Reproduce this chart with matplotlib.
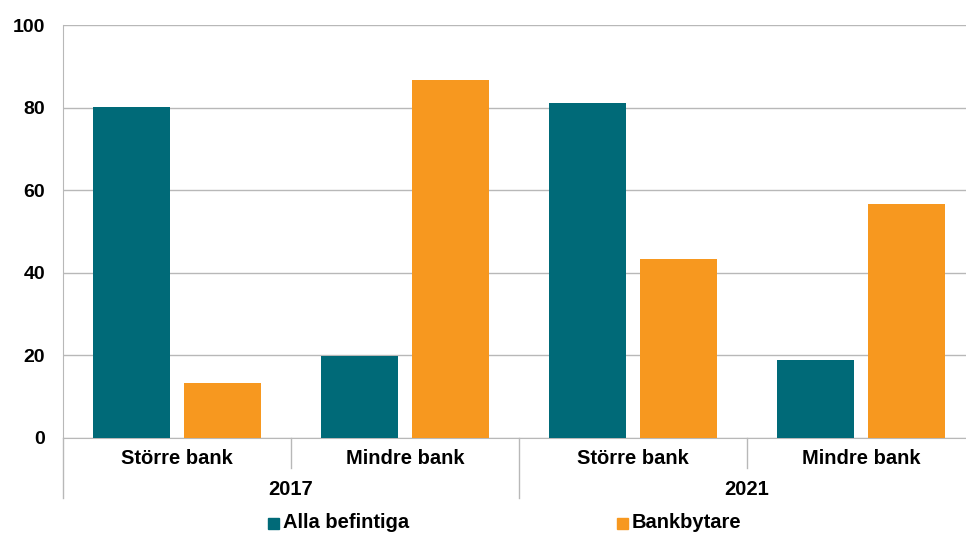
import matplotlib
matplotlib.use("Agg")
from matplotlib import pyplot as plt
import numpy as np

plt.rcParams['font.family'] = ['Liberation Sans', 'DejaVu Sans']
plt.rcParams['font.weight'] = 'bold'

years = ['2017', '2021']
categories = ['Större bank', 'Mindre bank', 'Större bank', 'Mindre bank']
alla_befintiga = [80.2, 19.8, 81.1, 18.9]
bankbytare = [13.2, 86.8, 43.4, 56.6]
series_names = ['Alla befintiga', 'Bankbytare']

teal = '#006a78'
orange = '#f7981f'
grid_col = '#b8b8b8'

fig = plt.figure(figsize=(9.66, 5.34), dpi=100)
ax = fig.add_axes([63 / 966, 1 - 438 / 534, (975 - 63) / 966, (438 - 25) / 534])

x = np.arange(len(categories))
w = 0.337
ax.bar(x - 0.2, alla_befintiga, w, color=teal, zorder=3, label=series_names[0])
ax.bar(x + 0.2, bankbytare, w, color=orange, zorder=3, label=series_names[1])

ax.set_xlim(-0.5, len(categories) - 0.5)
ax.set_ylim(0, 100)
ax.set_yticks([0, 20, 40, 60, 80, 100])
ax.yaxis.grid(True, color=grid_col, linewidth=1, zorder=0)
ax.tick_params(axis='y', length=0, labelsize=14, pad=13)
ax.set_xticks([])
for s in ['top', 'right']:
    ax.spines[s].set_visible(False)
ax.spines['left'].set_color(grid_col)
ax.spines['bottom'].set_color(grid_col)

# category labels and separators below the axis
trans = ax.get_xaxis_transform()
for i, c in enumerate(categories):
    ax.text(i, -0.05, c, transform=trans, ha='center', va='center', fontsize=14.5, fontweight='bold')
for i, yr in enumerate(years):
    ax.text(2 * i + 0.5, -0.125, yr, transform=trans, ha='center', va='center', fontsize=14.5, fontweight='bold')

for xs in [-0.5, 1.5]:
    ax.plot([xs, xs], [0, -0.145], transform=trans, color=grid_col, lw=1, clip_on=False)
for xs in [0.5, 2.5]:
    ax.plot([xs, xs], [0, -0.073], transform=trans, color=grid_col, lw=1, clip_on=False)

# legend
fig.patches.append(plt.Rectangle((268 / 966, 1 - 529 / 534), 11 / 966, 11 / 534,
                                 transform=fig.transFigure, color=teal))
fig.text(283 / 966, 1 - 523 / 534, series_names[0], ha='left', va='center', fontsize=14.5, fontweight='bold')
fig.patches.append(plt.Rectangle((617 / 966, 1 - 529 / 534), 11 / 966, 11 / 534,
                                 transform=fig.transFigure, color=orange))
fig.text(632 / 966, 1 - 523 / 534, series_names[1], ha='left', va='center', fontsize=14.5, fontweight='bold')

fig.savefig('out.png', dpi=100)
